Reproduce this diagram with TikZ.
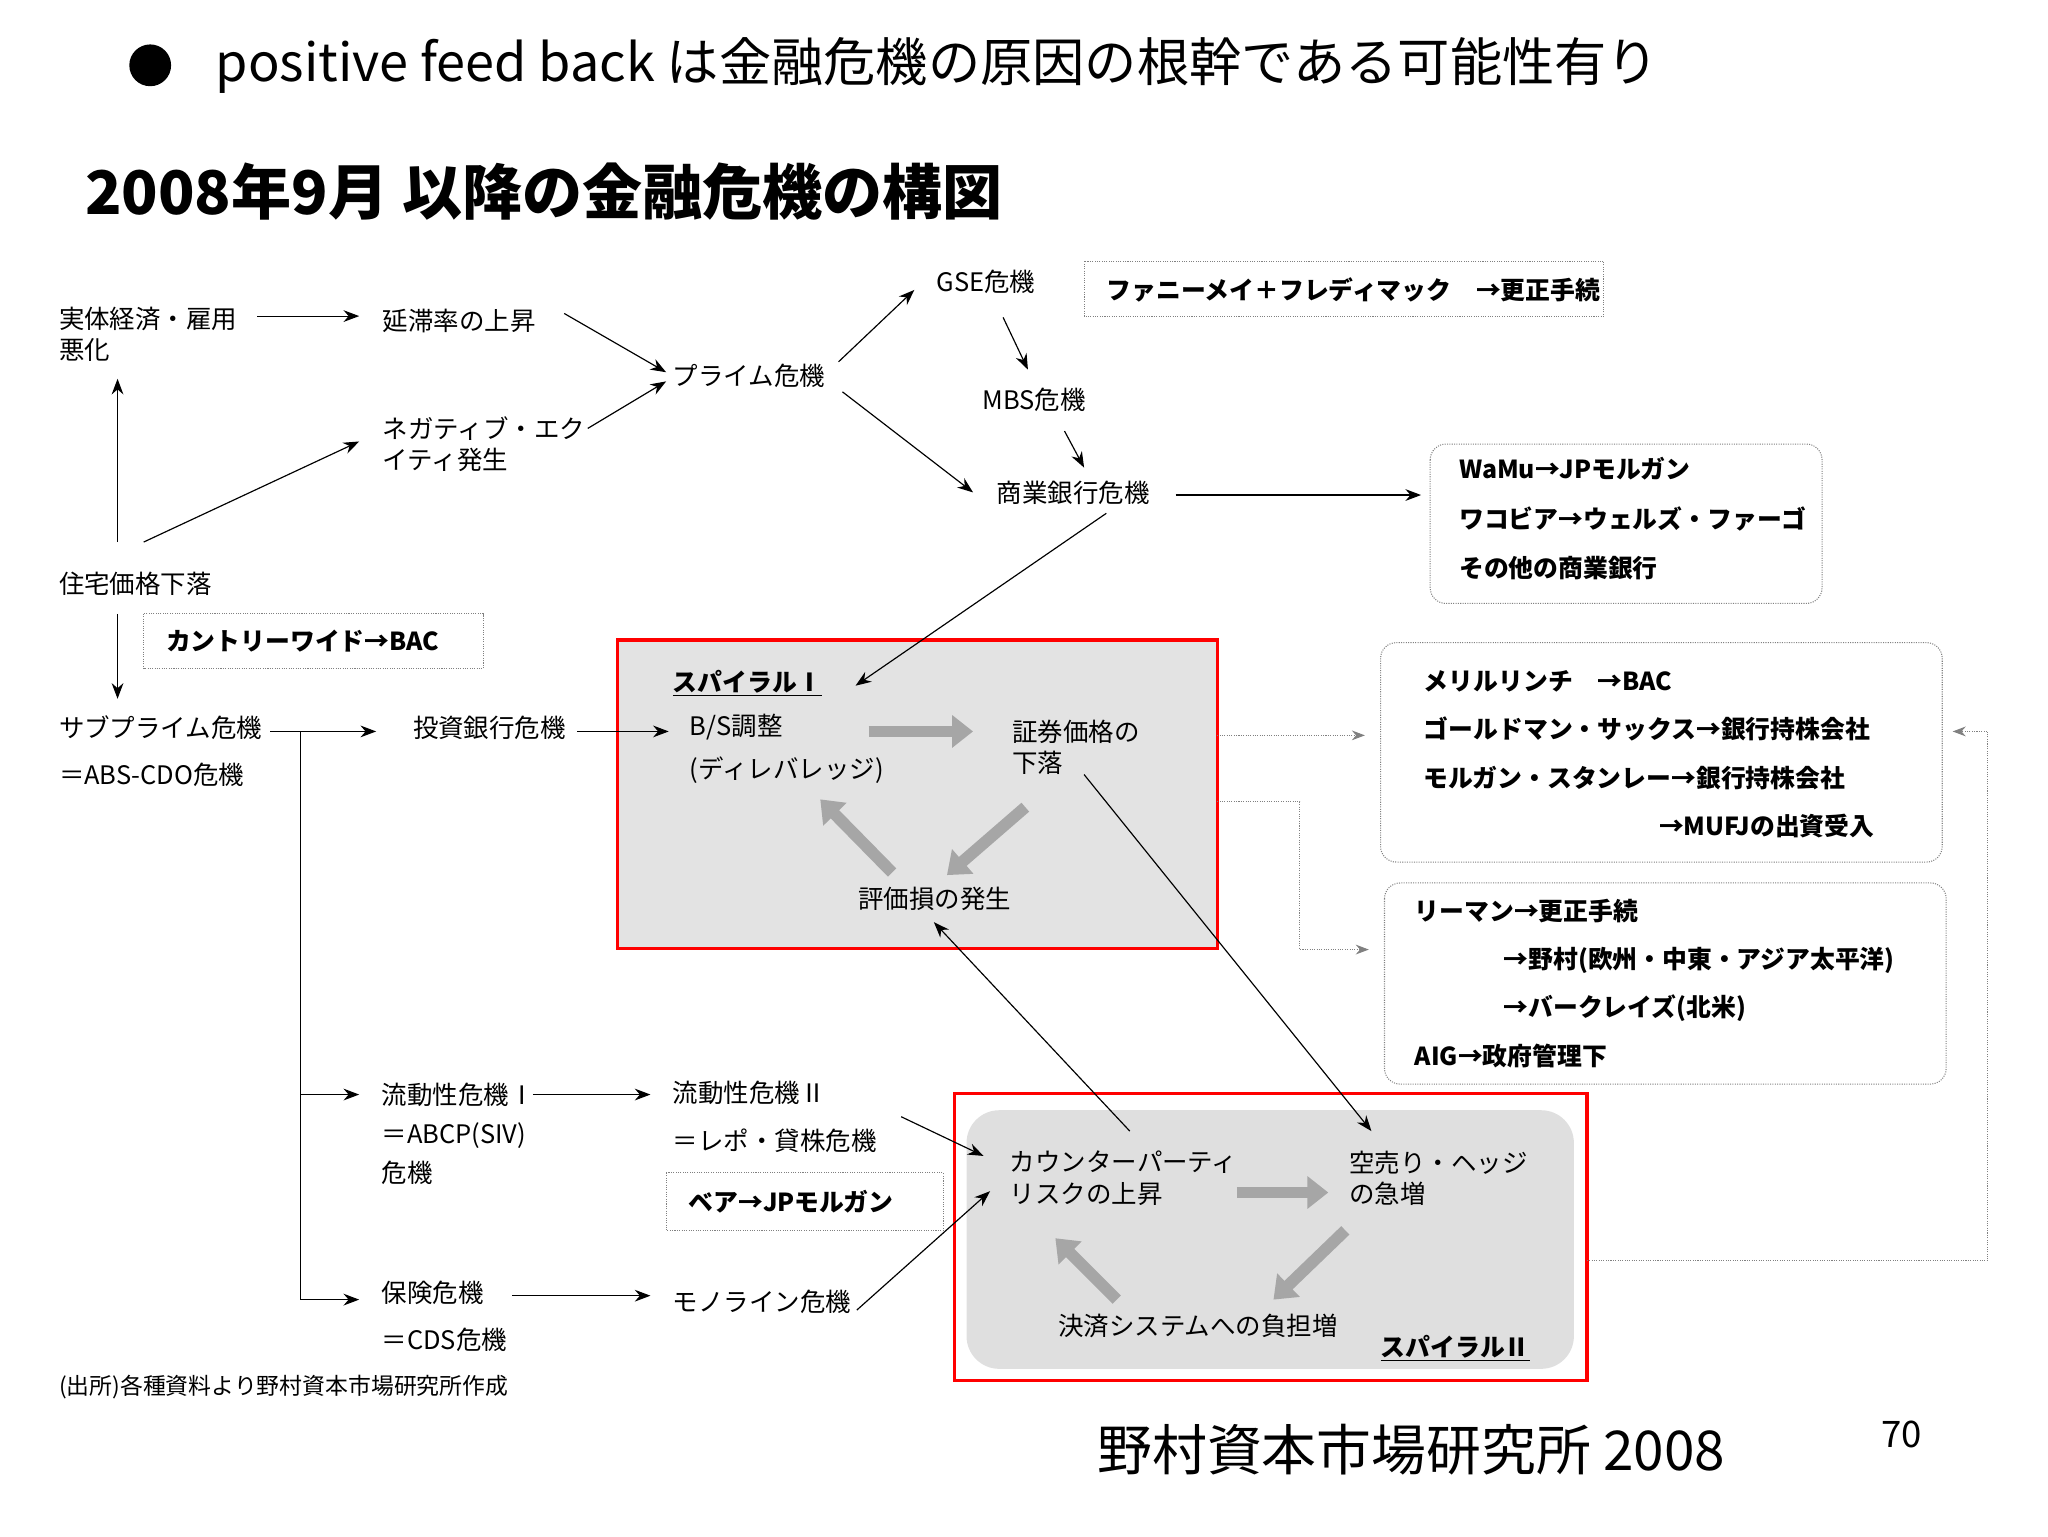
\documentclass[tikz,border=0pt]{standalone}
\usepackage{fontspec}
\setmainfont{Noto Sans CJK JP}
\usetikzlibrary{arrows.meta}
\begin{document}
\begin{tikzpicture}[x=1pt,y=-1pt,
 t/.style={anchor=west,font=\fontsize{19.5}{24}\selectfont,inner sep=0pt,align=left},
 bt/.style={t,font=\fontsize{19}{30}\selectfont\bfseries},
 ar/.style={-{Stealth[length=12pt,width=9pt]},line width=0.9pt},
 dbox/.style={draw,densely dotted,gray,line width=0.8pt},
 big/.style={line width=9pt,gray!70,-{Triangle[length=16pt,width=24pt]}},
 dot/.style={densely dotted,gray,line width=0.8pt}]
\useasboundingbox (0,0) rectangle (1568,1176);
% titles
\fill (115,50) circle (16);
\node[t,font=\fontsize{40}{44}\selectfont] (title) at (165,50) {positive feed back は金融危機の原因の根幹である可能性有り};
\node[t,font=\fontsize{46}{50}\selectfont\bfseries] (head) at (65,147) {2008年9月 以降の金融危機の構図};
% boxes
\draw[dbox] (830,200) rectangle (1228,242);
\node[bt] (fannie) at (847,222) {ファニーメイ＋フレディマック　→更正手続};
\draw[dbox,rounded corners=12] (1095,340) rectangle (1395,462);
\node[bt,anchor=north west,font=\fontsize{19}{38}\selectfont\bfseries] (wamu) at (1117,350) {WaMu→JPモルガン\\ワコビア→ウェルズ・ファーゴ\\その他の商業銀行};
\draw[dbox] (110,470) rectangle (370,512);
\node[bt] (country) at (127,491) {カントリーワイド→BAC};
\draw[dbox,rounded corners=12] (1057,492) rectangle (1487,660);
\node[bt,anchor=north west,font=\fontsize{19}{37}\selectfont\bfseries] (merrill) at (1090,513) {メリルリンチ　→BAC\\ゴールドマン・サックス→銀行持株会社\\モルガン・スタンレー→銀行持株会社\\\hspace*{180pt}→MUFJの出資受入};
\draw[dbox,rounded corners=12] (1060,676) rectangle (1490,830);
\node[bt,anchor=north west,font=\fontsize{19}{37}\selectfont\bfseries] (lehman) at (1083,688) {リーマン→更正手続\\\hspace*{68pt}→野村(欧州・中東・アジア太平洋)\\\hspace*{68pt}→バークレイズ(北米)\\AIG→政府管理下};
\draw[dbox] (510,898) rectangle (722,942);
\node[bt] (bear) at (527,920) {ベア→JPモルガン};
% spirals
\draw[red,line width=2.5pt,fill=gray!22] (473,490) rectangle (932,726);
\draw[red,line width=2.5pt] (731,837) rectangle (1215,1057);
\fill[gray!25,rounded corners=25] (740,850) rectangle (1205,1048);
\node[bt] (sp1) at (515,523) {\underline{スパイラルⅠ}};
\node[t] (bs) at (528,557) {B/S調整};
\node[t] (dele) at (528,590) {(ディレバレッジ)};
\node[t] (shoken) at (775,572) {証券価格の\\下落};
\node[t] (hyoka) at (657,688) {評価損の発生};
\draw[big] (665,560) -- (745,560);
\draw[big] (785,618) -- (725,670);
\draw[big] (683,668) -- (628,612);
\node[t] (counter) at (773,902) {カウンターパーティ\\リスクの上昇};
\node[t] (karauri) at (1033,902) {空売り・ヘッジ\\の急増};
\node[t] (kessai) at (810,1015) {決済システムへの負担増};
\node[bt] (sp2) at (1057,1032) {\underline{スパイラルⅡ}};
\draw[big] (947,913) -- (1017,913);
\draw[big] (1030,942) -- (975,995);
\draw[big] (855,995) -- (808,948);
% nodes
\node[t] (jitai) at (45,256) {実体経済・雇用\\悪化};
\node[t] (entai) at (293,246) {延滞率の上昇};
\node[t] (nega) at (293,340) {ネガティブ・エク\\イティ発生};
\node[t] (prime) at (515,288) {プライム危機};
\node[t] (gse) at (717,216) {GSE危機};
\node[t] (mbs) at (752,306) {MBS危機};
\node[t] (shogyo) at (763,377) {商業銀行危機};
\node[t] (jutaku) at (45,447) {住宅価格下落};
\node[t,font=\fontsize{19.5}{36}\selectfont] (sub) at (45,575) {サブプライム危機\\＝ABS-CDO危機};
\node[t] (toushi) at (316,557) {投資銀行危機};
\node[t,font=\fontsize{19.5}{30}\selectfont] (ryu1) at (292,868) {流動性危機Ⅰ\\＝ABCP(SIV)\\危機};
\node[t,font=\fontsize{19.5}{37}\selectfont] (ryu2) at (515,855) {流動性危機Ⅱ\\＝レポ・貸株危機};
\node[t,font=\fontsize{19.5}{36}\selectfont] (hoken) at (292,1008) {保険危機\\＝CDS危機};
\node[t] (mono) at (515,997) {モノライン危機};
\node[t,font=\fontsize{17.5}{20}\selectfont] (src) at (45,1062) {(出所)各種資料より野村資本市場研究所作成};
\node[t,font=\fontsize{42}{46}\selectfont] (nomura) at (840,1110) {野村資本市場研究所 2008};
\node[t,font=\fontsize{28}{32}\selectfont] (pg) at (1440,1098) {70};
% arrows
\draw[ar] (197,242) -- (275,242);
\draw[ar] (432,240) -- (510,285);
\draw[ar] (450,328) -- (510,292);
\draw[ar] (90,415) -- (90,290);
\draw[ar] (110,415) -- (275,338);
\draw[ar] (90,470) -- (90,535);
\draw[ar] (642,277) -- (700,222);
\draw[ar] (645,300) -- (745,377);
\draw[ar] (768,243) -- (787,283);
\draw[ar] (815,330) -- (830,358);
\draw[ar] (900,379) -- (1088,379);
\draw[ar] (847,393) -- (655,525);
\draw[ar] (207,560) -- (288,560);
\draw[ar] (442,560) -- (512,560);
\draw[line width=0.9pt] (230,560) -- (230,995);
\draw[ar] (230,838) -- (275,838);
\draw[ar] (230,995) -- (275,995);
\draw[ar] (408,838) -- (498,838);
\draw[ar] (392,992) -- (498,992);
\draw[ar] (690,855) -- (753,885);
\draw[ar] (656,1003) -- (758,912);
\draw[ar] (830,593) -- (1050,866);
\draw[ar] (865,866) -- (715,706);
% dotted connectors
\draw[dot,-{Stealth[length=10pt]}] (932,563) -- (1045,563);
\draw[dot,-{Stealth[length=10pt]}] (932,614) -- (995,614) -- (995,727) -- (1048,727);
\draw[dot,-{Stealth[length=10pt]}] (1215,965) -- (1522,965) -- (1522,560) -- (1495,560);
\end{tikzpicture}
\end{document}
